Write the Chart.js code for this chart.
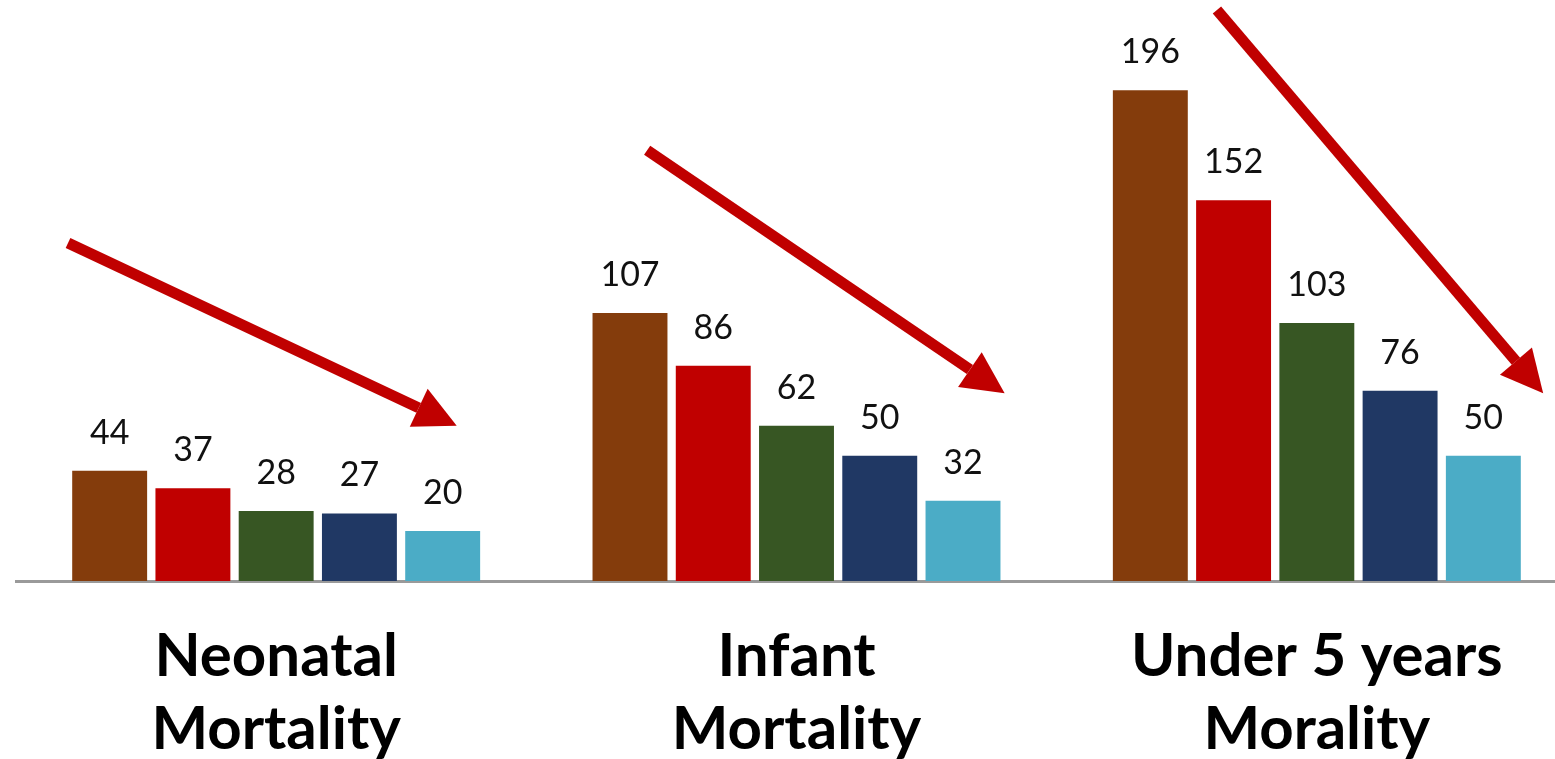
<!DOCTYPE html>
<html>
<head>
<meta charset="utf-8">
<script src="https://cdn.jsdelivr.net/npm/chart.js@4.4.1/dist/chart.umd.min.js"></script>
<style>
html, body { margin: 0; padding: 0; background: #fff; overflow: hidden; }
#wrap { width: 1577px; height: 759px; }
</style>
</head>
<body>
<div id="wrap"><canvas id="mortChart"></canvas></div>
<script>
// categories (the two lines of each label)
var categories = [
    ['Neonatal', 'Mortality'],
    ['Infant', 'Mortality'],
    ['Under 5 years', 'Morality']
];
// values per category, oldest -> newest
var neonatal = [44, 37, 28, 27, 20];
var infant = [107, 86, 62, 50, 32];
var underFive = [196, 152, 103, 76, 50];
var seriesNames = ['Period 1', 'Period 2', 'Period 3', 'Period 4', 'Period 5'];
var barColors = ['#843C0C', '#C00000', '#375623', '#203864', '#4BACC6'];

// red trend arrows, in axis units: [x from, value from, x to, value to]
var arrows = [
    [-0.40, 135, 0.347, 62],
    [0.713, 172, 1.40, 75],
    [1.808, 228, 2.435, 75]
];

var datasets = [];
for (var i = 0; i < seriesNames.length; i++) {
    datasets.push({
        label: seriesNames[i],
        data: [neonatal[i], infant[i], underFive[i]],
        backgroundColor: barColors[i],
        borderWidth: 0,
        categoryPercentage: 0.8,
        barPercentage: 0.9
    });
}

var valueLabels = {
    id: 'valueLabels',
    afterDatasetsDraw: function(chart) {
        var ctx = chart.ctx;
        ctx.save();
        ctx.font = '34px Lato';
        ctx.fillStyle = '#111';
        ctx.textAlign = 'center';
        ctx.textBaseline = 'alphabetic';
        chart.data.datasets.forEach(function(ds, di) {
            chart.getDatasetMeta(di).data.forEach(function(bar, j) {
                ctx.fillText(ds.data[j], bar.x, bar.y - 27);
            });
        });
        ctx.restore();
    }
};

var trendArrows = {
    id: 'trendArrows',
    afterDraw: function(chart) {
        var ctx = chart.ctx;
        var xs = chart.scales.x, ys = chart.scales.y;
        ctx.save();
        ctx.strokeStyle = '#C00000';
        ctx.fillStyle = '#C00000';
        ctx.lineWidth = 11;
        arrows.forEach(function(a) {
            var x1 = xs.getPixelForValue(a[0]), y1 = ys.getPixelForValue(a[1]);
            var x2 = xs.getPixelForValue(a[2]), y2 = ys.getPixelForValue(a[3]);
            var ang = Math.atan2(y2 - y1, x2 - x1);
            var headLen = 42, headW = 21;
            var bx = x2 - headLen * Math.cos(ang), by = y2 - headLen * Math.sin(ang);
            ctx.beginPath();
            ctx.moveTo(x1, y1);
            ctx.lineTo(bx, by);
            ctx.stroke();
            ctx.beginPath();
            ctx.moveTo(x2, y2);
            ctx.lineTo(bx + headW * Math.sin(ang), by - headW * Math.cos(ang));
            ctx.lineTo(bx - headW * Math.sin(ang), by + headW * Math.cos(ang));
            ctx.closePath();
            ctx.fill();
        });
        ctx.restore();
    }
};

var ctx = document.getElementById('mortChart');
new Chart(ctx, {
    type: 'bar',
    data: { labels: categories, datasets: datasets },
    options: {
        responsive: true,
        maintainAspectRatio: false,
        animation: false,
        layout: { padding: { left: 16, right: 0, top: 0, bottom: 0 } },
        plugins: { legend: { display: false }, tooltip: { enabled: false } },
        scales: {
            x: {
                grid: { display: false, drawTicks: false },
                border: { display: true, color: '#9a9a9a', width: 3 },
                ticks: {
                    color: '#000',
                    font: { family: 'Lato', weight: 'bold', size: 60, lineHeight: 1.22 },
                    padding: 39,
                    maxRotation: 0,
                    autoSkip: false
                },
                afterFit: function(s) { s.height = 178; }
            },
            y: {
                display: false,
                min: 0,
                max: 232
            }
        }
    },
    plugins: [valueLabels, trendArrows]
});
</script>
</body>
</html>
